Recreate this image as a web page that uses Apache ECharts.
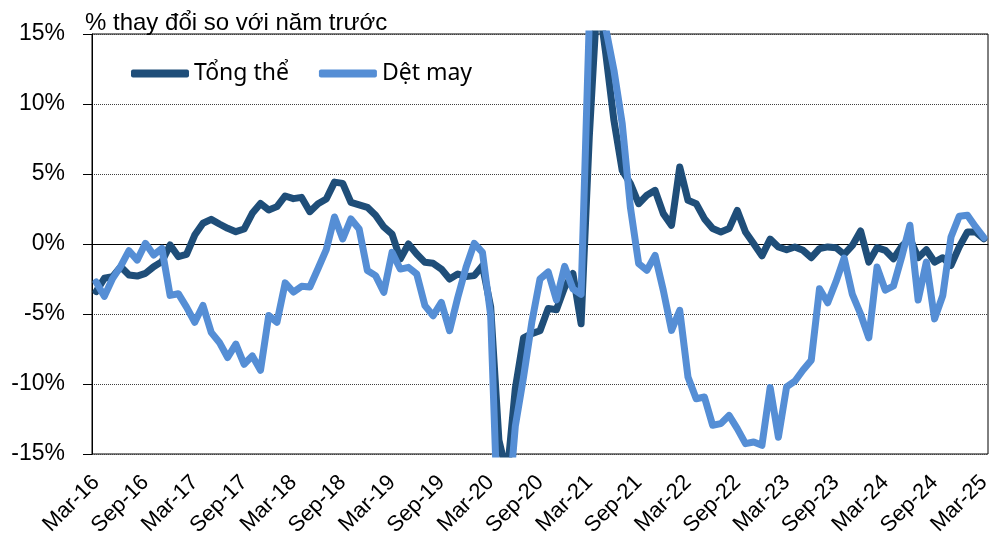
<!DOCTYPE html>
<html>
<head>
<meta charset="utf-8">
<script src="https://cdn.jsdelivr.net/npm/echarts@6/dist/echarts.min.js"></script>
<style>
  html, body { margin: 0; padding: 0; background: #fff; }
  #chart { width: 995px; height: 550px; }
</style>
</head>
<body>
<div id="chart"></div>
<script>
// thang Mar-16 .. Mar-25
const monthNames = ['Jan', 'Feb', 'Mar', 'Apr', 'May', 'Jun', 'Jul', 'Aug', 'Sep', 'Oct', 'Nov', 'Dec'];
const categories = [];
for (let k = 0; k < 109; k++) {
  const m = (2 + k) % 12;
  const y = 16 + Math.floor((2 + k) / 12);
  categories.push(monthNames[m] + '-' + y);
}

// % thay doi so voi nam truoc
const tongThe = [
  -3.4, -2.45, -2.33, -1.62, -2.21, -2.29, -2.1, -1.62, -1.26, -0.07,
  -0.9, -0.74, 0.64, 1.48, 1.76, 1.43, 1.12, 0.88, 1.07, 2.19,
  2.9, 2.43, 2.67, 3.43, 3.24, 3.33, 2.31, 2.88, 3.21, 4.42,
  4.33, 2.98, 2.8, 2.62, 2.05, 1.22, 0.71, -1.07, 0.0, -0.71,
  -1.31, -1.38, -1.79, -2.5, -2.14, -2.33, -2.26, -1.55, -4.5, -14,
  -16.5, -10.3, -6.7, -6.4, -6.2, -4.6, -4.7, -3.1, -2.1, -5.7,
  7.7, 18, 13.6, 8.8, 5.26, 4.31, 2.88, 3.48, 3.83, 2.17,
  1.33, 5.5, 3.12, 2.88, 1.81, 1.1, 0.86, 1.1, 2.4, 0.86,
  0.02, -0.85, 0.35, -0.21, -0.41, -0.21, -0.45, -0.98, -0.33, -0.21,
  -0.26, -0.74, -0.1, 0.93, -1.29, -0.26, -0.45, -1.05, -0.17, 0.4,
  -0.98, -0.41, -1.29, -0.98, -1.53, -0.21, 0.86, 0.86, 0.38
];
const detMay = [
  -2.71, -3.74, -2.47, -1.58, -0.48, -1.15, 0.05, -0.79, -0.31, -3.67,
  -3.55, -4.51, -5.59, -4.39, -6.31, -7.03, -8.11, -7.15, -8.59, -7.99,
  -9.02, -5.11, -5.59, -2.78, -3.43, -3.02, -3.07, -1.75, -0.4, 1.93,
  0.36, 1.79, 1.07, -1.9, -2.26, -3.45, -0.6, -1.79, -1.67, -2.14,
  -4.4, -5.12, -4.17, -6.19, -3.81, -1.67, 0.05, -0.6, -5.1, -22,
  -20, -13, -9.5, -5.6, -2.5, -2.0, -4.0, -1.6, -3.2, -3.6,
  16, 25, 15.4, 12.4, 8.6, 2.6, -1.4, -1.88, -0.81, -3.31,
  -6.17, -4.74, -9.5, -11.05, -10.93, -12.95, -12.83, -12.24, -13.19, -14.26,
  -14.14, -14.38, -10.25, -13.8, -10.2, -9.8, -9.0, -8.3, -3.2, -4.2,
  -2.7, -1.0, -3.6, -5.0, -6.7, -1.65, -3.3, -3.0, -0.93, 1.34,
  -4.0, -1.29, -5.35, -3.68, 0.5, 1.98, 2.05, 1.22, 0.45
];

const yMin = -15;
const yMax = 15;
const yStep = 5;

const chart = echarts.init(document.getElementById('chart'), null, { renderer: 'canvas' });

const option = {
  animation: false,
  backgroundColor: '#fff',
  color: ['#1F4E79', '#558ED5'],
  title: {
    text: '% thay đổi so với năm trước',
    left: 80,
    top: 6,
    textStyle: {
      fontFamily: 'Liberation Sans',
      fontSize: 24,
      fontWeight: 'normal',
      color: '#000'
    }
  },
  legend: {
    left: 126,
    top: 57,
    itemWidth: 58,
    itemHeight: 8,
    itemGap: 30,
    icon: 'roundRect',
    textStyle: {
      fontFamily: 'Noto Sans',
      fontSize: 23,
      color: '#000'
    },
    data: ['Tổng thể', 'Dệt may']
  },
  grid: {
    left: 92,
    right: 7,
    top: 34,
    bottom: 96,
    show: true,
    borderColor: '#000',
    borderWidth: 1
  },
  xAxis: {
    type: 'category',
    data: categories,
    boundaryGap: true,
    axisLine: { lineStyle: { color: '#000', width: 1 } },
    axisTick: {
      interval: 5,
      length: 5,
      lineStyle: { color: '#000' }
    },
    axisLabel: {
      interval: 5,
      rotate: 45,
      margin: 25,
      fontFamily: 'Liberation Sans',
      fontSize: 22,
      color: '#000'
    },
    splitLine: { show: false }
  },
  yAxis: {
    type: 'value',
    min: yMin,
    max: yMax,
    interval: yStep,
    axisLine: { show: true, lineStyle: { color: '#000', width: 1 } },
    axisTick: { show: true, length: 9, lineStyle: { color: '#000' } },
    axisLabel: {
      formatter: '{value}%',
      margin: 27,
      fontFamily: 'Liberation Sans',
      fontSize: 23,
      color: '#000'
    },
    splitLine: {
      show: true,
      lineStyle: { type: 'dotted', color: '#404040', width: 1 }
    }
  },
  series: [
    {
      name: 'Tổng thể',
      type: 'line',
      data: tongThe,
      symbol: 'none',
      clip: true,
      lineStyle: { width: 7, cap: 'round', join: 'round' }
    },
    {
      name: 'Dệt may',
      type: 'line',
      data: detMay,
      symbol: 'none',
      clip: true,
      lineStyle: { width: 7, cap: 'round', join: 'round' }
    }
  ]
};

chart.setOption(option);
</script>
</body>
</html>
